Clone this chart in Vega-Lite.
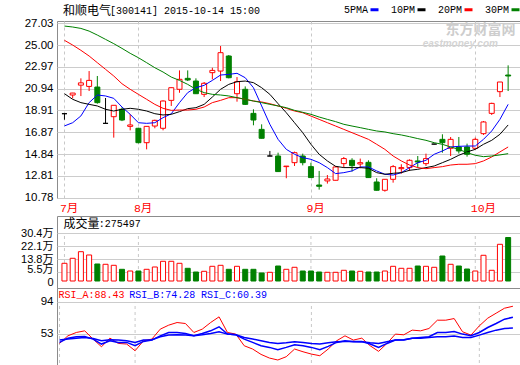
{
  "$schema": "https://vega.github.io/schema/vega-lite/v6.json",
  "padding": {"left": 0, "top": 3, "right": 0, "bottom": 0},
  "background": "white",
  "datasets": {
    "d": [
      {"i":0,"o":18.61,"h":18.61,"l":18.05,"c":18.61,"vol":112100,"m5":17.47,"m10":20.47,"m20":25.44,"m30":26.77,"ra":40.6,"rb":41.9,"rc":44.9},
      {"i":1,"o":20.35,"h":20.55,"l":20.04,"c":20.53,"vol":143800,"m5":17.77,"m10":19.95,"m20":25.0,"m30":26.68,"ra":50.4,"rb":47.4,"rc":46.2},
      {"i":2,"o":21.27,"h":21.9,"l":20.25,"c":21.48,"vol":185600,"m5":18.4,"m10":19.64,"m20":24.51,"m30":26.55,"ra":54.7,"rb":49.2,"rc":47.4},
      {"i":3,"o":21.15,"h":22.58,"l":20.72,"c":21.71,"vol":164700,"m5":19.64,"m10":19.48,"m20":23.98,"m30":26.3,"ra":56.8,"rb":49.6,"rc":48.3},
      {"i":4,"o":21.09,"h":22.12,"l":19.54,"c":19.64,"vol":107700,"m5":20.35,"m10":19.33,"m20":23.36,"m30":25.93,"ra":46.2,"rb":46.2,"rc":47.0},
      {"i":5,"o":17.71,"h":20.07,"l":17.71,"c":17.71,"vol":105800,"m5":20.26,"m10":19.02,"m20":22.74,"m30":25.53,"ra":36.3,"rb":39.8,"rc":44.0},
      {"i":6,"o":18.33,"h":19.39,"l":16.38,"c":19.39,"vol":99400,"m5":20.04,"m10":18.86,"m20":22.12,"m30":25.13,"ra":47.4,"rb":44.0,"rc":45.3},
      {"i":7,"o":19.02,"h":19.2,"l":17.92,"c":18.02,"vol":74100,"m5":19.23,"m10":19.02,"m20":21.4,"m30":24.69,"ra":40.6,"rb":41.9,"rc":44.9},
      {"i":8,"o":17.43,"h":18.55,"l":17.06,"c":17.56,"vol":63300,"m5":18.55,"m10":19.11,"m20":20.88,"m30":24.23,"ra":39.8,"rb":41.9,"rc":44.0},
      {"i":9,"o":17.25,"h":17.3,"l":15.85,"c":15.91,"vol":63300,"m5":17.77,"m10":19.02,"m20":20.41,"m30":23.82,"ra":31.2,"rb":37.6,"rc":41.9},
      {"i":10,"o":15.91,"h":17.45,"l":15.29,"c":17.43,"vol":74100,"m5":17.71,"m10":18.86,"m20":19.95,"m30":23.36,"ra":44.0,"rb":43.2,"rc":44.9},
      {"i":11,"o":17.46,"h":18.05,"l":17.25,"c":17.99,"vol":88700,"m5":17.77,"m10":18.61,"m20":19.48,"m30":22.89,"ra":46.2,"rb":44.9,"rc":45.3},
      {"i":12,"o":17.25,"h":19.85,"l":17.06,"c":19.79,"vol":124800,"m5":18.24,"m10":18.49,"m20":19.11,"m30":22.49,"ra":59.0,"rb":50.4,"rc":49.2},
      {"i":13,"o":19.85,"h":21.05,"l":19.33,"c":21.03,"vol":124800,"m5":18.6,"m10":18.55,"m20":18.92,"m30":22.02,"ra":64.1,"rb":54.7,"rc":51.3},
      {"i":14,"o":20.88,"h":22.64,"l":20.56,"c":21.81,"vol":112100,"m5":19.64,"m10":18.8,"m20":18.95,"m30":21.71,"ra":67.5,"rb":54.7,"rc":51.7},
      {"i":15,"o":21.9,"h":22.64,"l":21.65,"c":21.75,"vol":80400,"m5":20.57,"m10":19.08,"m20":18.95,"m30":21.34,"ra":66.2,"rb":53.4,"rc":51.3},
      {"i":16,"o":21.65,"h":21.9,"l":20.45,"c":20.47,"vol":57000,"m5":21.03,"m10":19.17,"m20":19.02,"m30":20.88,"ra":54.7,"rb":50.4,"rc":50.4},
      {"i":17,"o":20.41,"h":21.56,"l":20.16,"c":21.44,"vol":61400,"m5":21.25,"m10":19.48,"m20":19.23,"m30":20.57,"ra":59.0,"rb":53.4,"rc":51.7},
      {"i":18,"o":22.43,"h":22.89,"l":21.81,"c":22.64,"vol":93100,"m5":21.71,"m10":20.16,"m20":19.64,"m30":20.41,"ra":67.5,"rb":56.8,"rc":53.4},
      {"i":19,"o":22.58,"h":24.91,"l":21.65,"c":24.29,"vol":99400,"m5":22.21,"m10":20.88,"m20":19.85,"m30":20.35,"ra":74.8,"rb":62.0,"rc":55.6},
      {"i":20,"o":23.98,"h":24.07,"l":21.9,"c":21.96,"vol":74100,"m5":22.27,"m10":21.34,"m20":20.1,"m30":20.26,"ra":54.7,"rb":52.6,"rc":52.6},
      {"i":21,"o":20.47,"h":22.02,"l":19.73,"c":21.59,"vol":93100,"m5":22.37,"m10":21.59,"m20":20.1,"m30":20.1,"ra":52.6,"rb":51.7,"rc":51.7},
      {"i":22,"o":20.88,"h":21.15,"l":19.42,"c":19.48,"vol":74100,"m5":21.96,"m10":21.65,"m20":19.95,"m30":19.95,"ra":37.6,"rb":46.2,"rc":48.3},
      {"i":23,"o":18.64,"h":19.02,"l":17.53,"c":18.02,"vol":74100,"m5":21.03,"m10":21.5,"m20":19.79,"m30":19.79,"ra":33.4,"rb":41.9,"rc":46.2},
      {"i":24,"o":17.15,"h":17.62,"l":16.3,"c":16.32,"vol":50700,"m5":19.33,"m10":21.03,"m20":19.7,"m30":19.64,"ra":26.5,"rb":37.6,"rc":44.0},
      {"i":25,"o":14.67,"h":15.14,"l":14.67,"c":14.67,"vol":55100,"m5":17.62,"m10":20.41,"m20":19.54,"m30":19.48,"ra":21.8,"rb":35.5,"rc":41.9},
      {"i":26,"o":14.67,"h":14.98,"l":13.2,"c":13.22,"vol":95000,"m5":16.22,"m10":19.54,"m20":19.33,"m30":19.33,"ra":19.3,"rb":32.5,"rc":40.6},
      {"i":27,"o":13.68,"h":13.73,"l":12.6,"c":13.73,"vol":74100,"m5":15.29,"m10":18.7,"m20":19.11,"m30":19.17,"ra":23.5,"rb":35.5,"rc":41.5},
      {"i":28,"o":14.05,"h":15.08,"l":13.74,"c":14.98,"vol":86800,"m5":14.83,"m10":17.77,"m20":18.86,"m30":18.92,"ra":33.4,"rb":38.9,"rc":42.8},
      {"i":29,"o":14.67,"h":14.89,"l":13.8,"c":14.05,"vol":63300,"m5":14.52,"m10":16.84,"m20":18.7,"m30":18.74,"ra":29.9,"rb":37.6,"rc":41.9},
      {"i":30,"o":13.68,"h":14.05,"l":12.63,"c":12.66,"vol":63300,"m5":14.36,"m10":15.76,"m20":18.39,"m30":18.55,"ra":26.9,"rb":35.5,"rc":40.6},
      {"i":31,"o":11.97,"h":13.28,"l":11.54,"c":11.85,"vol":57000,"m5":14.05,"m10":14.83,"m20":18.08,"m30":18.3,"ra":24.8,"rb":32.5,"rc":39.8},
      {"i":32,"o":12.35,"h":12.9,"l":12.1,"c":12.53,"vol":55100,"m5":13.59,"m10":14.21,"m20":17.77,"m30":18.08,"ra":33.4,"rb":36.8,"rc":41.5},
      {"i":33,"o":12.41,"h":13.74,"l":12.4,"c":13.65,"vol":55100,"m5":13.03,"m10":13.71,"m20":17.46,"m30":17.87,"ra":44.0,"rb":41.9,"rc":42.8},
      {"i":34,"o":13.96,"h":14.58,"l":13.59,"c":14.43,"vol":67800,"m5":13.12,"m10":13.59,"m20":17.15,"m30":17.62,"ra":50.4,"rb":44.0,"rc":43.2},
      {"i":35,"o":14.27,"h":14.46,"l":13.22,"c":13.77,"vol":63300,"m5":13.28,"m10":13.59,"m20":16.84,"m30":17.46,"ra":44.9,"rb":42.8,"rc":43.2},
      {"i":36,"o":13.93,"h":14.43,"l":13.53,"c":14.05,"vol":61400,"m5":13.65,"m10":13.59,"m20":16.53,"m30":17.31,"ra":47.4,"rb":43.2,"rc":42.8},
      {"i":37,"o":14.08,"h":14.27,"l":12.64,"c":12.66,"vol":57000,"m5":13.65,"m10":13.53,"m20":16.22,"m30":17.15,"ra":37.6,"rb":39.8,"rc":41.5},
      {"i":38,"o":12.25,"h":12.6,"l":11.45,"c":11.48,"vol":57000,"m5":13.28,"m10":13.12,"m20":15.76,"m30":17.0,"ra":30.4,"rb":35.5,"rc":40.6},
      {"i":39,"o":11.48,"h":12.52,"l":11.35,"c":12.5,"vol":63300,"m5":12.97,"m10":12.97,"m20":15.29,"m30":16.91,"ra":40.6,"rb":40.6,"rc":42.8},
      {"i":40,"o":12.5,"h":13.83,"l":12.19,"c":13.68,"vol":93100,"m5":12.9,"m10":13.06,"m20":14.67,"m30":16.75,"ra":52.6,"rb":44.9,"rc":44.9},
      {"i":41,"o":13.49,"h":13.9,"l":13.03,"c":13.59,"vol":80400,"m5":13.12,"m10":13.12,"m20":14.21,"m30":16.63,"ra":51.7,"rb":44.9,"rc":45.3},
      {"i":42,"o":13.59,"h":14.36,"l":13.28,"c":14.27,"vol":80400,"m5":13.59,"m10":13.34,"m20":13.83,"m30":16.47,"ra":57.7,"rb":47.4,"rc":47.4},
      {"i":43,"o":14.21,"h":14.67,"l":13.59,"c":14.11,"vol":95000,"m5":14.05,"m10":13.43,"m20":13.59,"m30":16.29,"ra":56.8,"rb":48.3,"rc":47.4},
      {"i":44,"o":13.96,"h":14.89,"l":13.74,"c":14.43,"vol":93100,"m5":14.27,"m10":13.59,"m20":13.49,"m30":16.13,"ra":59.8,"rb":49.2,"rc":48.3},
      {"i":45,"o":15.78,"h":15.8,"l":15.76,"c":15.78,"vol":86800,"m5":14.83,"m10":13.74,"m20":13.59,"m30":15.91,"ra":70.5,"rb":54.7,"rc":49.2},
      {"i":46,"o":16.22,"h":16.69,"l":14.98,"c":15.91,"vol":158300,"m5":15.14,"m10":14.05,"m20":13.68,"m30":15.76,"ra":70.5,"rb":54.7,"rc":49.2},
      {"i":47,"o":15.39,"h":16.44,"l":14.67,"c":16.22,"vol":105800,"m5":15.51,"m10":14.36,"m20":13.83,"m30":15.51,"ra":72.6,"rb":56.0,"rc":50.0},
      {"i":48,"o":15.51,"h":16.44,"l":14.9,"c":15.14,"vol":95000,"m5":15.57,"m10":14.74,"m20":13.9,"m30":15.29,"ra":55.6,"rb":52.6,"rc":48.3},
      {"i":49,"o":15.51,"h":15.82,"l":14.61,"c":14.83,"vol":76000,"m5":15.6,"m10":15.05,"m20":13.9,"m30":14.98,"ra":51.3,"rb":50.4,"rc":48.3},
      {"i":50,"o":15.39,"h":16.38,"l":15.29,"c":16.22,"vol":63300,"m5":15.6,"m10":15.29,"m20":13.96,"m30":14.74,"ra":63.2,"rb":54.7,"rc":51.3},
      {"i":51,"o":16.75,"h":17.93,"l":16.63,"c":17.84,"vol":162800,"m5":16.22,"m10":15.76,"m20":14.21,"m30":14.61,"ra":73.1,"rb":61.1,"rc":54.7},
      {"i":52,"o":18.64,"h":19.63,"l":18.49,"c":19.57,"vol":67800,"m5":17.0,"m10":16.13,"m20":14.58,"m30":14.67,"ra":79.5,"rb":66.2,"rc":57.7},
      {"i":53,"o":20.66,"h":21.56,"l":20.16,"c":21.56,"vol":232400,"m5":18.08,"m10":16.69,"m20":15.05,"m30":14.77,"ra":85.9,"rb":71.8,"rc":59.8},
      {"i":54,"o":22.21,"h":23.11,"l":20.72,"c":22.12,"vol":275497,"m5":19.48,"m10":17.56,"m20":15.51,"m30":14.89,"ra":88.43,"rb":74.28,"rc":60.39}
    ]
  },
  "bounds": "flush",
  "spacing": 18,
  "resolve": {"scale": {"color": "independent"}, "legend": {"color": "independent"}},
  "vconcat": [
    {
      "width": 466,
      "height": 177,
      "data": {"name": "d"},
      "encoding": {
        "x": {
          "field": "i", "type": "quantitative",
          "scale": {"domain": [-0.3, 55.2], "nice": false, "zero": false},
          "axis": {
            "values": [0, 9, 30, 50],
            "tickCount": 30,
            "labelExpr": "datum.value==0?'7月':datum.value==9?'8月':datum.value==30?'9月':'10月'",
            "labelColor": "#ff0000",
            "labelFont": "Liberation Mono, Noto Sans CJK SC",
            "labelFontSize": 11.5,
            "labelAlign": "left",
            "labelBaseline": "top",
            "labelOffset": -5,
            "labelPadding": 4,
            "labelFlush": false,
            "labelOverlap": false,
            "grid": true,
            "gridDash": [3, 3],
            "gridColor": "#c8c8c8"
          }
        }
      },
      "layer": [
        {
          "mark": {"type": "rule", "strokeWidth": 1},
          "encoding": {
            "y": {
              "field": "l", "type": "quantitative",
              "scale": {"domain": [10.76, 27.24], "nice": false, "zero": false},
              "axis": {
                "values": [10.78, 12.81, 14.84, 16.87, 18.91, 20.94, 22.97, 25.0, 27.03],
                "tickCount": 30,
                "format": ".2f",
                "grid": true,
                "labelOverlap": false,
                "labelFlush": false
              }
            },
            "y2": {"field": "h"},
            "color": {
              "condition": [
                {"test": "datum.c > datum.o", "value": "#ff0000"},
                {"test": "datum.c < datum.o", "value": "#008000"}
              ],
              "value": "#000000"
            }
          }
        },
        {
          "mark": {"type": "bar", "size": 5, "strokeWidth": 1},
          "encoding": {
            "y": {"field": "o", "type": "quantitative"},
            "y2": {"field": "c"},
            "fill": {
              "condition": [
                {"test": "datum.c > datum.o", "value": "#ffffff"},
                {"test": "datum.c < datum.o", "value": "#008000"}
              ],
              "value": "#000000"
            },
            "stroke": {
              "condition": [
                {"test": "datum.c > datum.o", "value": "#ff0000"},
                {"test": "datum.c < datum.o", "value": "#008000"}
              ],
              "value": "#000000"
            }
          }
        },
        {
          "transform": [{"fold": ["m5", "m10", "m20", "m30"], "as": ["s", "val"]}],
          "mark": {"type": "line", "strokeWidth": 1},
          "encoding": {
            "y": {"field": "val", "type": "quantitative"},
            "color": {
              "field": "s", "type": "nominal",
              "scale": {"domain": ["m5", "m10", "m20", "m30"], "range": ["#0000ff", "#000000", "#ff0000", "#008000"]},
              "legend": {
                "orient": "none",
                "legendX": 312,
                "legendY": -17,
                "direction": "horizontal",
                "title": null,
                "symbolType": "stroke",
                "symbolSize": 64,
                "symbolStrokeWidth": 3,
                "labelFont": "Liberation Mono",
                "labelFontSize": 10,
                "labelColor": "#000000",
                "labelAlign": "right",
                "labelOffset": -12,
                "columnPadding": 5,
                "padding": 0,
                "labelExpr": "datum.label=='m5'?'5PMA':datum.label=='m10'?'10PM':datum.label=='m20'?'20PM':'30PM'"
              }
            }
          }
        },
        {
          "transform": [{"filter": "datum.i == 54"}],
          "mark": {"type": "text", "align": "left", "baseline": "middle", "font": "Noto Sans CJK SC", "fontSize": 12, "color": "#000000"},
          "encoding": {"x": {"datum": -0.18, "type": "quantitative"}, "y": {"datum": 28.21, "type": "quantitative"}, "text": {"value": "和顺电气"}}
        },
        {
          "transform": [{"filter": "datum.i == 54"}],
          "mark": {"type": "text", "align": "left", "baseline": "middle", "font": "Liberation Mono", "fontSize": 10, "color": "#000000"},
          "encoding": {"x": {"datum": 5.54, "type": "quantitative"}, "y": {"datum": 28.21, "type": "quantitative"}, "text": {"value": "[300141] 2015-10-14 15:00"}}
        },
        {
          "transform": [{"filter": "datum.i == 54"}],
          "mark": {"type": "text", "align": "left", "baseline": "middle", "font": "Noto Sans CJK SC", "fontSize": 14, "fontWeight": "bold", "color": "#cdcdcd"},
          "encoding": {"x": {"datum": 46.39, "type": "quantitative"}, "y": {"datum": 26.37, "type": "quantitative"}, "text": {"value": "东方财富网"}}
        },
        {
          "transform": [{"filter": "datum.i == 54"}],
          "mark": {"type": "text", "align": "left", "baseline": "middle", "font": "Liberation Sans", "fontSize": 10, "fontWeight": "bold", "fontStyle": "italic", "color": "#d4d4d4"},
          "encoding": {"x": {"datum": 43.6, "type": "quantitative"}, "y": {"datum": 25.06, "type": "quantitative"}, "text": {"value": "eastmoney.com"}}
        }
      ]
    },
    {
      "spacing": 0,
      "bounds": "flush",
      "vconcat": [
        {
          "width": 466,
          "height": 72,
          "data": {"name": "d"},
          "encoding": {
            "x": {"field": "i", "type": "quantitative", "scale": {"domain": [-0.3, 55.2], "nice": false, "zero": false}, "axis": null}
          },
          "layer": [
            {
              "transform": [{"filter": "datum.i == 0 || datum.i == 9 || datum.i == 30 || datum.i == 50"}],
              "mark": {"type": "rule", "color": "#c8c8c8", "strokeDash": [3, 3]},
              "encoding": {"y": {"datum": 0, "type": "quantitative"}, "y2": {"datum": 304000}}
            },
            {
              "mark": {"type": "bar", "size": 5, "strokeWidth": 1},
              "encoding": {
                "y": {
                  "field": "vol", "type": "quantitative",
                  "scale": {"domain": [-44333, 411667], "nice": false, "zero": false},
                  "axis": {
                    "values": [0, 55000, 138000, 221000, 304000],
                    "tickCount": 30,
                    "labelExpr": "datum.value==0?'0':format(datum.value/10000,'.1f')+'万'",
                    "labelFontSize": 11,
                    "labelOffset": {"condition": [{"test": "datum.value == 55000", "value": -2.5}, {"test": "datum.value == 0", "value": 1}], "value": 0},
                    "labelOverlap": false,
                    "labelFlush": false,
                    "grid": true,
                    "gridColor": {"condition": {"test": "datum.value == 0", "value": "rgba(0,0,0,0)"}, "value": "#cccccc"}
                  }
                },
                "y2": {"datum": 0},
                "fill": {"condition": {"test": "datum.c >= datum.o", "value": "#ffffff"}, "value": "#008000"},
                "stroke": {"condition": {"test": "datum.c >= datum.o", "value": "#ff0000"}, "value": "#008000"}
              }
            },
            {
              "transform": [{"filter": "datum.i == 54"}],
              "mark": {"type": "text", "align": "left", "baseline": "middle", "font": "Noto Sans CJK SC", "fontSize": 12, "color": "#000000"},
              "encoding": {"x": {"datum": -0.12, "type": "quantitative"}, "y": {"datum": 361000, "type": "quantitative"}, "text": {"value": "成交量"}}
            },
            {
              "transform": [{"filter": "datum.i == 54"}],
              "mark": {"type": "text", "align": "left", "baseline": "middle", "font": "Liberation Mono", "fontSize": 10, "color": "#000000"},
              "encoding": {"x": {"datum": 4.17, "type": "quantitative"}, "y": {"datum": 361000, "type": "quantitative"}, "text": {"value": ":275497"}}
            }
          ]
        },
        {
          "width": 466,
          "height": 87,
          "data": {"name": "d"},
          "encoding": {
            "x": {"field": "i", "type": "quantitative", "scale": {"domain": [-0.3, 55.2], "nice": false, "zero": false}, "axis": null}
          },
          "layer": [
            {
              "transform": [{"filter": "datum.i == 0 || datum.i == 9 || datum.i == 30 || datum.i == 50"}],
              "mark": {"type": "rule", "color": "#c8c8c8", "strokeDash": [3, 3]},
              "encoding": {"y": {"datum": 0, "type": "quantitative"}, "y2": {"datum": 94}}
            },
            {
              "mark": {"type": "line", "color": "#ff0000", "strokeWidth": 1},
              "encoding": {
                "y": {
                  "field": "ra", "type": "quantitative",
                  "scale": {"domain": [0, 111.9], "nice": false, "zero": false},
                  "axis": {"values": [0, 53, 94], "tickCount": 30, "format": "d", "grid": true, "labelOverlap": false, "labelFlush": false}
                }
              }
            },
            {
              "mark": {"type": "line", "color": "#0000ff", "strokeWidth": 1.5},
              "encoding": {"y": {"field": "rb", "type": "quantitative"}}
            },
            {
              "mark": {"type": "line", "color": "#0000ff", "strokeWidth": 1.5},
              "encoding": {"y": {"field": "rc", "type": "quantitative"}}
            },
            {
              "transform": [{"filter": "datum.i == 54"}],
              "mark": {"type": "text", "align": "left", "baseline": "middle", "font": "Liberation Mono", "fontSize": 10, "color": "#ff0000"},
              "encoding": {"x": {"datum": -0.12, "type": "quantitative"}, "y": {"datum": 103, "type": "quantitative"}, "text": {"value": "RSI_A:88.43"}}
            },
            {
              "transform": [{"filter": "datum.i == 54"}],
              "mark": {"type": "text", "align": "left", "baseline": "middle", "font": "Liberation Mono", "fontSize": 10, "color": "#0000ff"},
              "encoding": {"x": {"datum": 8.31, "type": "quantitative"}, "y": {"datum": 103, "type": "quantitative"}, "text": {"value": "RSI_B:74.28"}}
            },
            {
              "transform": [{"filter": "datum.i == 54"}],
              "mark": {"type": "text", "align": "left", "baseline": "middle", "font": "Liberation Mono", "fontSize": 10, "color": "#0000ff"},
              "encoding": {"x": {"datum": 16.85, "type": "quantitative"}, "y": {"datum": 103, "type": "quantitative"}, "text": {"value": "RSI_C:60.39"}}
            }
          ]
        }
      ]
    }
  ],
  "config": {
    "view": {"stroke": "#8c8c8c", "strokeWidth": 1},
    "axis": {
      "domain": false,
      "ticks": false,
      "tickSize": 0,
      "title": null,
      "labelFont": "Liberation Sans, Noto Sans CJK SC",
      "labelFontSize": 11.5,
      "labelColor": "#000000",
      "labelPadding": 4,
      "gridColor": "#cccccc",
      "gridWidth": 1
    },
    "axisY": {"minExtent": 56, "maxExtent": 56}
  }
}
